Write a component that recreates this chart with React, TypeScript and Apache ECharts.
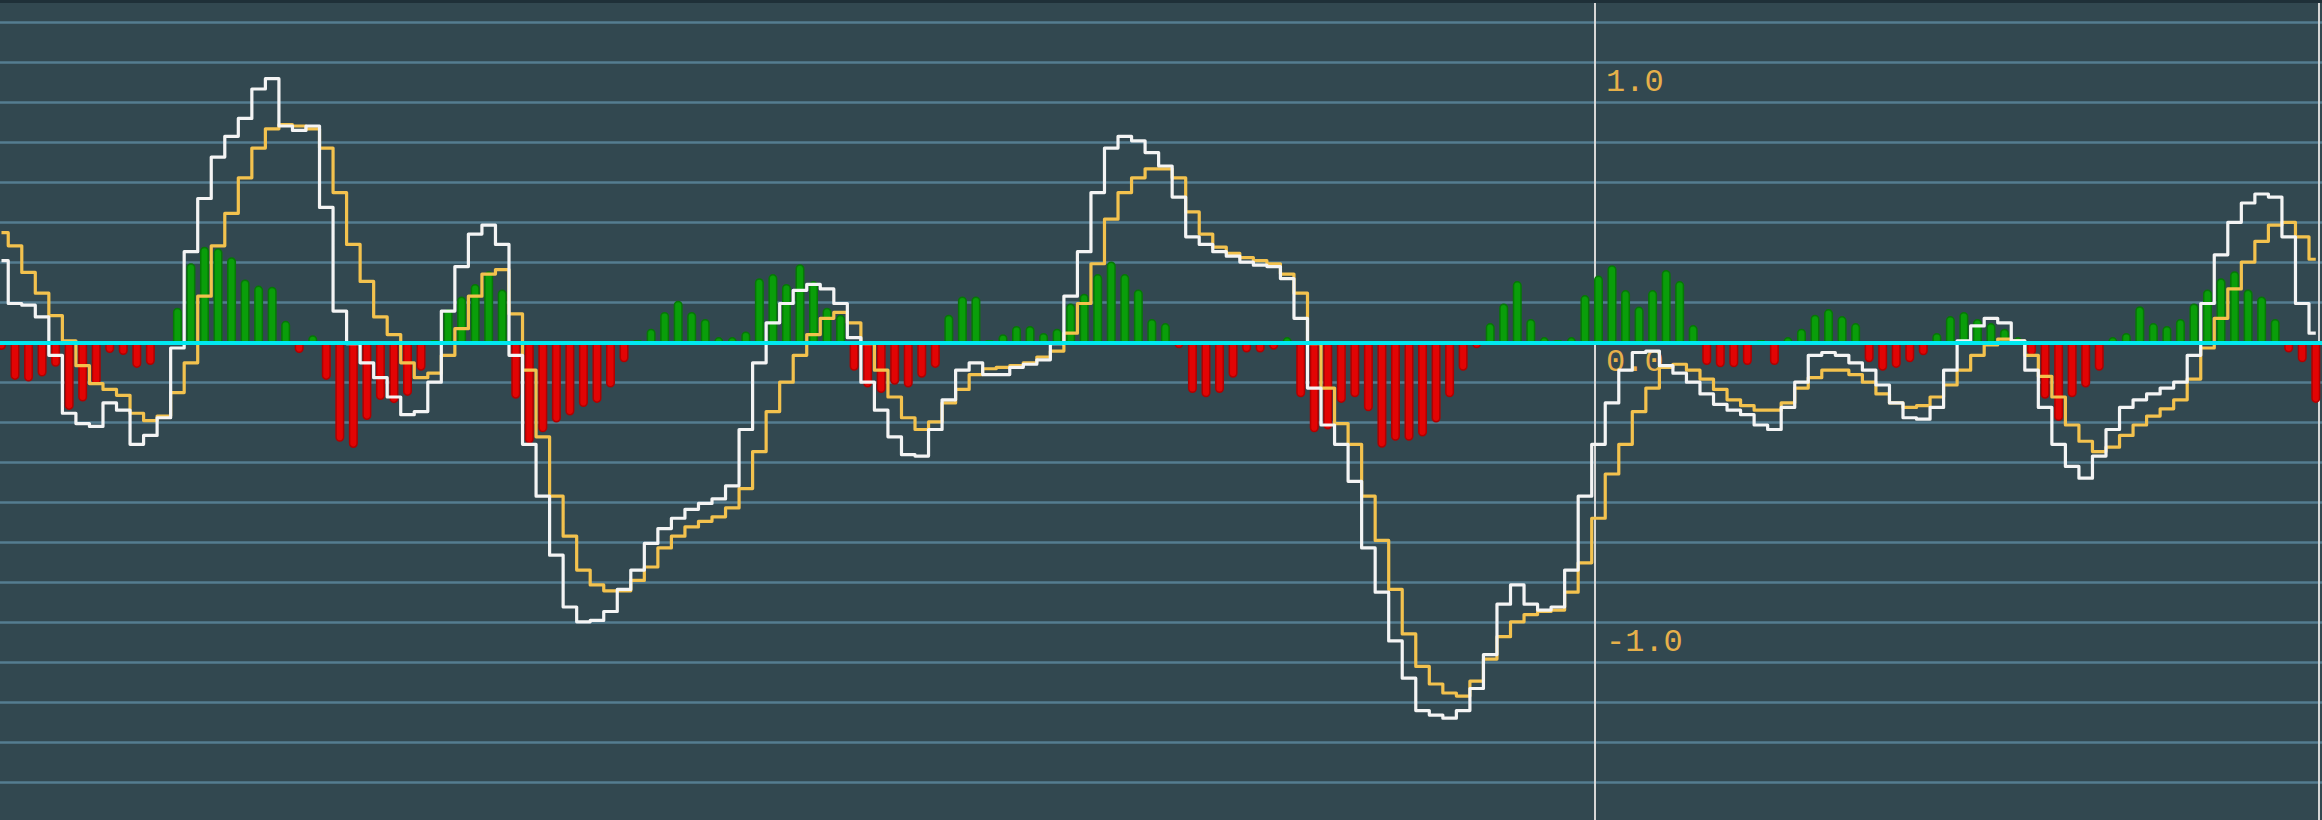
import React, { useEffect, useRef } from "react";
import * as echarts from "echarts";

// Histogram (difference) values, one per bar
const HIST: number[] = [
  -0.026, -0.133, -0.139, -0.121, -0.086, -0.24, -0.21, -0.151, -0.037, -0.044,
  -0.09, -0.08, 0.004, 0.125, 0.284, 0.343, 0.337, 0.305, 0.226, 0.204,
  0.2, 0.078, -0.037, 0.027, -0.133, -0.354, -0.376, -0.276, -0.205, -0.216,
  -0.19, -0.1, 0.01, 0.12, 0.165, 0.21, 0.255, 0.19, -0.2, -0.36,
  -0.32, -0.285, -0.26, -0.23, -0.215, -0.16, -0.07, 0.01, 0.05, 0.11,
  0.15, 0.11, 0.085, 0.02, 0.02, 0.04, 0.23, 0.245, 0.21, 0.28,
  0.22, 0.125, 0.1, -0.1, -0.16, -0.18, -0.15, -0.16, -0.125, -0.09,
  0.1, 0.165, 0.165, 0.01, 0.03, 0.06, 0.06, 0.035, 0.05, 0.14,
  0.175, 0.245, 0.29, 0.245, 0.19, 0.085, 0.07, -0.02, -0.18, -0.195,
  -0.18, -0.125, -0.035, -0.035, -0.025, 0.02, -0.195, -0.32, -0.31, -0.215,
  -0.195, -0.245, -0.375, -0.35, -0.35, -0.335, -0.285, -0.195, -0.1, -0.02,
  0.07, 0.14, 0.22, 0.085, 0.02, 0.01, 0.02, 0.17, 0.24, 0.277,
  0.188, 0.129, 0.188, 0.26, 0.22, 0.063, -0.08, -0.088, -0.088, -0.08,
  0.01, -0.08, 0.02, 0.05, 0.1, 0.12, 0.095, 0.07, -0.07, -0.1,
  -0.09, -0.07, -0.045, 0.035, 0.095, 0.11, 0.085, 0.07, 0.05, 0.02,
  -0.045, -0.2, -0.28, -0.195, -0.16, -0.1, 0.02, 0.035, 0.13, 0.07,
  0.06, 0.085, 0.14, 0.19, 0.23, 0.255, 0.19, 0.165, 0.085, -0.035,
  -0.07, -0.215,
];

// Fast line (white)
const FAST: number[] = [
  0.293, 0.14, 0.134, 0.092, -0.045, -0.252, -0.289, -0.299, -0.215, -0.241,
  -0.363, -0.331, -0.268, -0.019, 0.325, 0.515, 0.663, 0.737, 0.801, 0.906,
  0.943, 0.774, 0.758, 0.774, 0.483, 0.113, -0.003, -0.072, -0.125, -0.194,
  -0.257, -0.246, -0.141, 0.113, 0.272, 0.388, 0.42, 0.351, -0.045, -0.363,
  -0.548, -0.759, -0.944, -0.997, -0.992, -0.96, -0.881, -0.812, -0.717, -0.664,
  -0.627, -0.595, -0.574, -0.558, -0.511, -0.31, -0.072, 0.071, 0.14, 0.187,
  0.208, 0.192, 0.14, 0.018, -0.141, -0.241, -0.336, -0.4, -0.405, -0.31,
  -0.204, -0.098, -0.072, -0.114, -0.114, -0.088, -0.077, -0.061, -0.003, 0.166,
  0.325, 0.536, 0.695, 0.737, 0.721, 0.679, 0.631, 0.52, 0.378, 0.351,
  0.325, 0.309, 0.288, 0.277, 0.272, 0.229, 0.087, -0.162, -0.294, -0.363,
  -0.495, -0.733, -0.891, -1.065, -1.198, -1.314, -1.33, -1.341, -1.314, -1.235,
  -1.114, -0.934, -0.865, -0.934, -0.955, -0.944, -0.812, -0.548, -0.363, -0.215,
  -0.098, -0.035, -0.03, -0.082, -0.109, -0.141, -0.183, -0.22, -0.241, -0.257,
  -0.294, -0.31, -0.231, -0.141, -0.045, -0.035, -0.045, -0.072, -0.098, -0.151,
  -0.215, -0.268, -0.273, -0.231, -0.098, 0.007, 0.06, 0.087, 0.071, 0.007,
  -0.098, -0.231, -0.363, -0.442, -0.484, -0.405, -0.31, -0.231, -0.204, -0.183,
  -0.162, -0.141, -0.045, 0.14, 0.314, 0.43, 0.499, 0.531, 0.52, 0.378,
  0.14, 0.034,
];

// Slow line (yellow)
const SLOW: number[] = [
  0.393, 0.346, 0.251, 0.177, 0.097, 0.007, -0.082, -0.146, -0.167, -0.188,
  -0.252, -0.278, -0.262, -0.178, -0.072, 0.166, 0.346, 0.462, 0.589, 0.695,
  0.764, 0.779, 0.774, 0.764, 0.695, 0.536, 0.351, 0.219, 0.092, 0.029,
  -0.072, -0.125, -0.109, -0.045, 0.05, 0.166, 0.245, 0.261, 0.103, -0.098,
  -0.336, -0.548, -0.691, -0.812, -0.865, -0.886, -0.886, -0.849, -0.801, -0.733,
  -0.691, -0.658, -0.638, -0.622, -0.59, -0.521, -0.389, -0.246, -0.141, -0.045,
  0.029, 0.087, 0.108, 0.071, -0.003, -0.098, -0.194, -0.268, -0.31, -0.283,
  -0.215, -0.167, -0.114, -0.093, -0.088, -0.082, -0.072, -0.051, -0.03, 0.034,
  0.14, 0.282, 0.441, 0.536, 0.589, 0.621, 0.621, 0.589, 0.467, 0.388,
  0.341, 0.319, 0.304, 0.293, 0.282, 0.245, 0.177, -0.003, -0.162, -0.289,
  -0.363, -0.548, -0.706, -0.881, -1.04, -1.156, -1.219, -1.251, -1.262, -1.209,
  -1.13, -1.05, -0.997, -0.971, -0.96, -0.955, -0.891, -0.786, -0.627, -0.469,
  -0.363, -0.246, -0.162, -0.088, -0.077, -0.098, -0.13, -0.167, -0.204, -0.225,
  -0.241, -0.241, -0.215, -0.162, -0.125, -0.098, -0.098, -0.114, -0.141, -0.183,
  -0.215, -0.231, -0.225, -0.194, -0.151, -0.098, -0.045, -0.008, 0.013, 0.007,
  -0.045, -0.12, -0.194, -0.294, -0.352, -0.389, -0.373, -0.331, -0.294, -0.262,
  -0.236, -0.204, -0.13, -0.019, 0.087, 0.192, 0.288, 0.362, 0.42, 0.43,
  0.378, 0.298,
];

const Y_LABELS: number[] = [1, 0, -1];

export default function App() {
  const ref = useRef<HTMLDivElement>(null);

  useEffect(() => {
    if (!ref.current) return;
    const chart = echarts.init(ref.current, null, { renderer: "svg" });

    const green = {
      color: "#0a9e0a",
      borderColor: "#067806",
      borderWidth: 1.5,
      borderRadius: [4.5, 4.5, 0, 0],
    };
    const red = {
      color: "#e20404",
      borderColor: "#b00000",
      borderWidth: 1.5,
      borderRadius: [0, 0, 4.5, 4.5],
    };

    const yTicks = {
      type: "value",
      min: -13 / 7,
      max: 9 / 7,
      interval: 1 / 7,
    };

    chart.setOption({
      animation: false,
      backgroundColor: "#324850",
      grid: {
        left: 0,
        right: 0,
        top: -17.3,
        bottom: -42.7,
        containLabel: false,
        outerBoundsMode: "none",
      },
      xAxis: {
        type: "value",
        min: -0.109,
        max: 171.46,
        show: false,
        splitLine: { show: false },
      },
      yAxis: [
        {
          ...yTicks,
          position: "left",
          offset: -1595,
          axisLine: {
            show: true,
            onZero: false,
            lineStyle: { color: "#d6d6d6", width: 2 },
          },
          axisTick: { show: false },
          splitLine: {
            show: true,
            lineStyle: { color: "#557d90", width: 2.5 },
          },
          axisLabel: {
            inside: true,
            margin: 11,
            fontFamily: "Liberation Mono",
            fontSize: 32,
            color: "#e6b04a",
            verticalAlign: "top",
            padding: [4, 0, 0, 0],
            showMinLabel: true,
            showMaxLabel: true,
            formatter: (v: number) => {
              const hit = Y_LABELS.find((t) => Math.abs(t - v) < 1e-6);
              return hit === undefined ? "" : hit.toFixed(1);
            },
          },
        },
        {
          ...yTicks,
          position: "right",
          offset: -3,
          axisLine: {
            show: true,
            onZero: false,
            lineStyle: { color: "#d6d6d6", width: 2 },
          },
          axisTick: { show: false },
          axisLabel: { show: false },
          splitLine: { show: false },
        },
      ],
      graphic: [
        {
          type: "rect",
          shape: { x: 0, y: 0, width: 2322, height: 3 },
          style: { fill: "#1f3038" },
          z: 100,
        },
      ],
      series: [
        {
          type: "bar",
          barWidth: 9,
          z: 2,
          data: HIST.map((v, i) => ({
            value: [i, v],
            itemStyle: v >= 0 ? green : red,
          })),
          markLine: {
            silent: true,
            symbol: ["none", "none"],
            label: { show: false },
            lineStyle: { color: "#00e8f0", width: 4, type: "solid" },
            data: [{ yAxis: 0 }],
          },
        },
        {
          type: "line",
          step: "middle",
          z: 3,
          symbol: "none",
          lineStyle: { color: "#f3c24e", width: 3.2, join: "round" },
          data: SLOW.map((v, i) => [i, v]),
        },
        {
          type: "line",
          step: "middle",
          z: 4,
          symbol: "none",
          lineStyle: { color: "#f4f4f4", width: 3.2, join: "round" },
          data: FAST.map((v, i) => [i, v]),
        },
      ],
    });

    return () => chart.dispose();
  }, []);

  return (
    <div
      ref={ref}
      style={{ position: "fixed", left: 0, top: 0, width: 2322, height: 820 }}
    />
  );
}
